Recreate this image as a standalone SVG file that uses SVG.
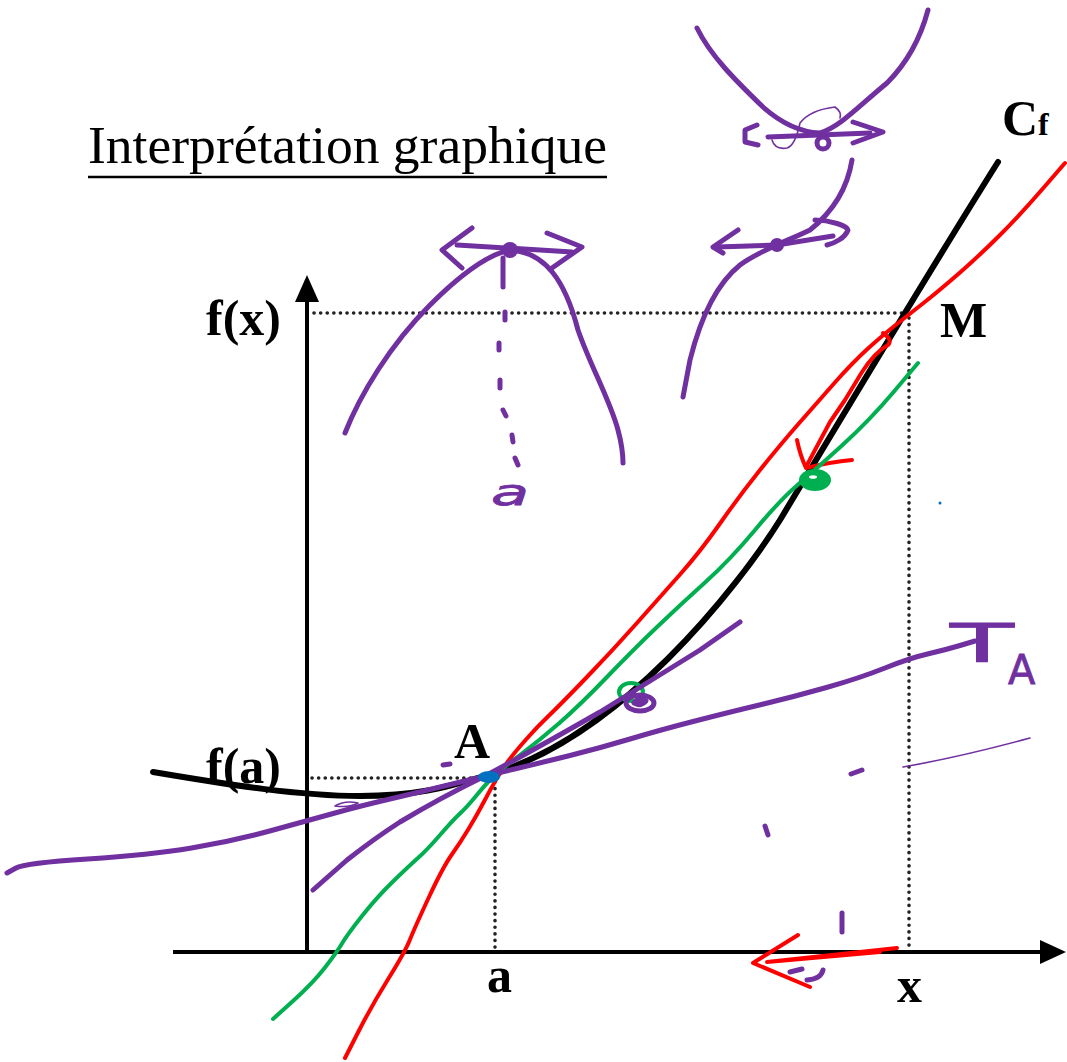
<svg xmlns="http://www.w3.org/2000/svg" width="1067" height="1062" viewBox="0 0 1067 1062">
<style>
.ax{stroke:#000;stroke-width:4;fill:none}
.dt{stroke:#222;stroke-width:3.6;fill:none;stroke-dasharray:0.1 6.5;stroke-linecap:round}
.lbl{font-family:"Liberation Serif",serif;font-weight:bold;font-size:50px;fill:#000}
.pu{stroke:#7030a0;fill:none;stroke-width:5;stroke-linecap:round;stroke-linejoin:round}
.put{stroke:#7030a0;fill:none;stroke-width:1.6;stroke-linecap:round;stroke-linejoin:round}
.rd{stroke:#ff0000;fill:none;stroke-width:4;stroke-linecap:round;stroke-linejoin:round}
.gr{stroke:#00b050;fill:none;stroke-width:4;stroke-linecap:round;stroke-linejoin:round}
.hw{font-family:"DejaVu Sans",sans-serif;fill:#7030a0;stroke:#7030a0;stroke-width:0.8}
</style>
<rect width="1067" height="1062" fill="#fff"/>

<g id="title">
<text x="88" y="163" font-family="Liberation Serif, serif" font-size="53" textLength="519" lengthAdjust="spacingAndGlyphs">Interprétation graphique</text>
<line x1="88" y1="177" x2="607" y2="177" stroke="#000" stroke-width="2.5"/>
</g>

<g id="axes">
<line class="ax" x1="173" y1="952" x2="1045" y2="952"/>
<polygon points="1066,952 1040,940 1040,964" fill="#000"/>
<line class="ax" x1="307" y1="952" x2="307" y2="298"/>
<polygon points="307,275 295,302 319,302" fill="#000"/>
</g>

<g id="guides">
<line class="dt" x1="314" y1="313" x2="905" y2="313"/>
<line class="dt" x1="909" y1="318" x2="909" y2="948"/>
<line class="dt" x1="312" y1="778" x2="492" y2="778"/>
<line class="dt" x1="495" y1="782" x2="495" y2="948"/>
</g>

<g id="labels">
<text class="lbl" x="206" y="335">f(x)</text>
<text class="lbl" x="206" y="783">f(a)</text>
<text class="lbl" x="454" y="758">A</text>
<text class="lbl" x="487" y="992">a</text>
<text class="lbl" x="897" y="1002">x</text>
<text class="lbl" x="940" y="337">M</text>
<text class="lbl" x="1002" y="135" font-size="43">C<tspan font-size="32">f</tspan></text>
</g>

<g id="curve">
<path d="M153,772 C230,785 300,796 360,796 S450,786 485,776 C620,740 740,584 780,520 C840,420 930,270 998,162" fill="none" stroke="#000" stroke-width="6" stroke-linecap="round"/>
</g>

<g id="secants">
<path class="rd" d="M345,1058 L358.5,1031.5 Q372,1005 388.5,978.5 Q405,952 410,939.5 Q415,927 429,897 Q443,867 451.5,855 Q460,843 468.5,829 Q477,815 483.5,802.5 Q490,790 496.5,779 Q503,768 509,760 Q515,752 526,739.5 Q537,727 548.5,716 Q560,705 586.5,677.5 Q613,650 636.5,623.5 Q660,597 680,574.5 Q700,552 720,523.5 Q740,495 760,470 Q780,445 797.5,425 Q815,405 834,383.5 Q853,362 868,348.5 Q883,335 895,325.5 Q907,316 923.5,303 Q940,290 960,272.5 Q980,255 1000,235 Q1020,215 1042.5,189 L1065,163"/>
<path class="rd" d="M883,333 Q893,340 888,345 Q875,352 862,372 L845,400 L830,422 L815,450 L806,467"/>
<path class="rd" d="M797,440 Q800,455 806,468 Q830,462 852,460"/>
<path class="gr" d="M273,1019 L293,1001 Q313,983 325,967.5 Q337,952 342,943.5 Q347,935 362,916 Q377,897 393.5,881 Q410,865 418.5,857.5 Q427,850 440,835 Q453,820 460,813.5 Q467,807 476,796 Q485,785 492.5,777.5 Q500,770 520,755 Q540,740 560,722.5 Q580,705 606.5,677.5 Q633,650 656.5,627.5 Q680,605 705,582.5 Q730,560 755,530 Q780,500 797.5,485 Q815,470 842.5,445 Q870,420 894,391.5 L918,363"/>
<ellipse cx="815" cy="480" rx="16" ry="11" fill="#00b050"/>
<ellipse cx="813" cy="477" rx="4" ry="1.8" fill="#fff"/>
<ellipse cx="631" cy="692" rx="12" ry="9" class="gr"/>
</g>

<g id="tangents">
<path class="pu" d="M7,873 L16,868 Q25,863 87.5,859 Q150,855 191.5,848 Q233,841 271.5,830.5 Q310,820 335,813 Q360,806 390,799 Q420,792 452.5,784 Q485,776 512.5,769.5 Q540,763 570,755.5 Q600,748 630,739 Q660,730 695,721 Q730,712 761.5,704.5 Q793,697 826.5,687.5 Q860,678 885,668 Q910,658 927.5,654 Q945,650 960,645.5 L975,641"/>
<path class="pu" d="M313,890 Q330,875 347,860 Q375,838 400,822 Q440,798 485,776 Q530,752 600,712 Q660,675 700,650 L740,622"/>
<path class="put" d="M335,806 Q345,800 358,803 Q350,808 335,806"/>
<ellipse cx="640" cy="703" rx="14" ry="8" class="pu"/>
<path class="pu" d="M634,703 Q640,696 646,701 Q640,707 634,703" stroke-width="3"/>
<path class="put" d="M903,767 Q960,757 1030,738"/>
<path class="pu" d="M851,774 L862,770" stroke-width="2.5"/>
<path class="pu" d="M842,913 L842,932" stroke-width="2"/>
<path class="pu" d="M790,972 L802,969" stroke-width="2"/>
<path class="pu" d="M807,980 Q821,979 823,970" stroke-width="2"/>
<path class="pu" d="M765,826 L768,835" stroke-width="1.5"/>
<path class="pu" d="M443,765 L450,764" stroke-width="2.5"/>
<ellipse cx="489" cy="777" rx="11" ry="6" fill="#0070c0"/>
<circle cx="940" cy="503" r="1.5" fill="#0070c0"/>
<text class="hw" x="950" y="662" font-size="54" textLength="64" lengthAdjust="spacingAndGlyphs">T</text>
<text class="hw" x="1008" y="684" font-size="40">A</text>
</g>

<g id="red-arrow">
<path class="rd" d="M897,948 L767,962 L880,952" stroke-width="7"/>
<path class="rd" d="M798,935 L753,963 L810,987" stroke-width="7"/>
</g>

<g id="sketch-max">
<path class="pu" d="M345,433 C360,395 390,345 430,305 C455,280 485,255 510,250 C545,252 565,280 578,330 C590,365 610,400 618,430 C622,445 623,455 623,463"/>
<path class="pu" d="M457,245 L572,252"/>
<path class="pu" d="M472,228 L442,250 L462,268"/>
<path class="pu" d="M547,233 L582,247 L552,268"/>
<circle cx="510" cy="250" r="8" fill="#7030a0"/>
<path class="pu" d="M503,258 L503,287"/>
<path class="pu" d="M505,312 L505,320 M499,343 L499,350 M500,380 L500,388 M503,410 L506,416 M512,435 L513,442 M515,458 L518,465"/>
<text class="hw" x="491" y="505" font-size="36" font-style="italic" textLength="38" lengthAdjust="spacingAndGlyphs">a</text>
</g>

<g id="sketch-min">
<path class="pu" d="M697,28 C710,55 735,80 763,107 C780,122 800,132 820,133 C840,127 860,105 887,83 C905,65 920,40 928,10"/>
<path class="pu" d="M768,137 L870,133"/>
<path class="pu" d="M853,122 L883,132 L853,143"/>
<path class="pu" d="M757,125 L745,130 L745,142 L758,145"/>
<circle cx="823" cy="143" r="6" fill="none" stroke="#7030a0" stroke-width="5"/>
<path class="put" d="M772,140 Q775,150 787,148 Q795,146 800,123 Q810,110 835,107 Q842,112 840,118"/>
</g>

<g id="sketch-inflection">
<path class="pu" d="M852,160 C848,185 835,210 810,230 C790,240 760,250 740,265 C715,285 700,320 690,360 L683,397"/>
<path class="pu" d="M717,247 L777,245 L833,236"/>
<path class="pu" d="M738,230 L713,247 L723,253"/>
<path class="pu" d="M815,220 C830,220 848,226 848,230 C845,238 835,243 827,245"/>
<circle cx="777" cy="245" r="7" fill="#7030a0"/>
</g>
</svg>
